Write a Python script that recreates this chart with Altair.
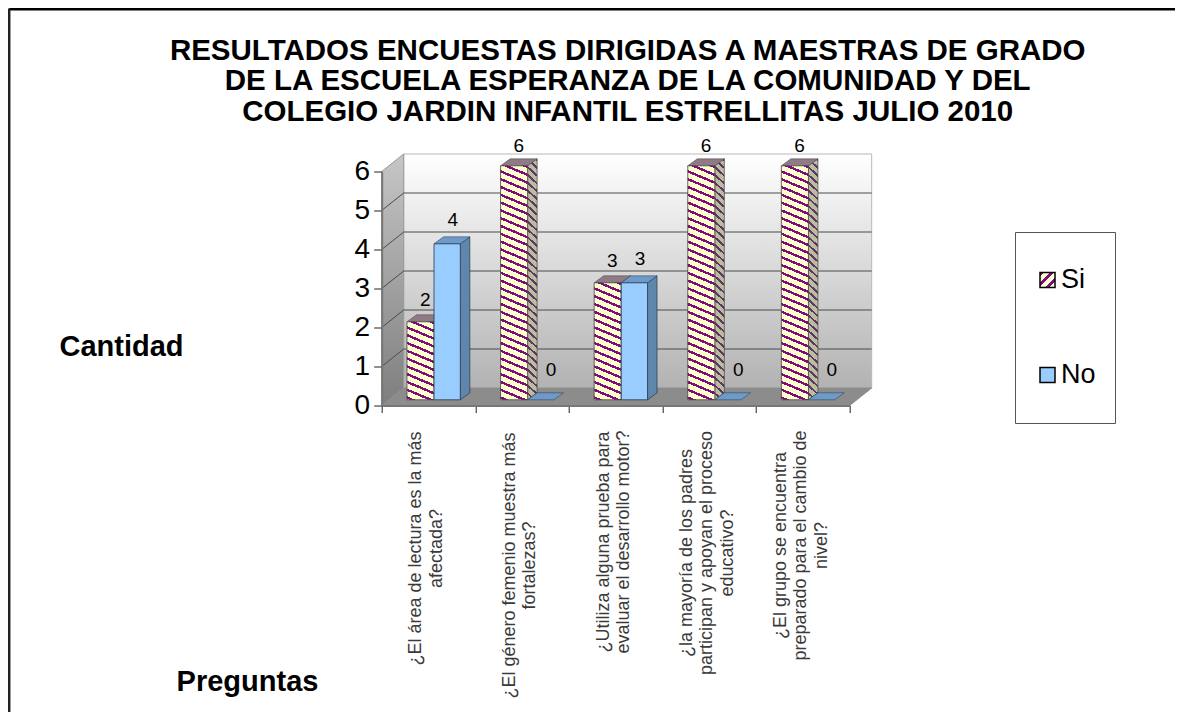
import json
import altair as alt
import pandas as pd

# ---- data
title_lines = ["RESULTADOS ENCUESTAS DIRIGIDAS A MAESTRAS DE GRADO",
               "DE LA ESCUELA ESPERANZA DE LA COMUNIDAD Y DEL",
               "COLEGIO JARDIN INFANTIL ESTRELLITAS JULIO 2010"]
questions = ["¿El área de lectura es la más|afectada?",
             "¿El género femenio muestra más|fortalezas?",
             "¿Utiliza alguna prueba para|evaluar el desarrollo motor?",
             "¿la mayoría de los padres|participan y apoyan el proceso|educativo?",
             "¿El grupo se encuentra|preparado para el cambio de|nivel?"]
si_values = [2, 6, 3, 6, 6]
no_values = [4, 0, 3, 0, 0]
series_names = ["Si", "No"]

# ---- layout (pixels and depth of the drawing)
PX_X, PX_Y = 93.6, 39.0          # pixels per category, per unit
WALL_DX, WALL_DY = 22 / PX_X, 17.5 / PX_Y
BAR_DX, BAR_DY = 9.5 / PX_X, 7 / PX_Y
BASE = 5.7 / PX_Y
SI_L, MID, NO_R = 0.27, 0.559, 0.84
LABEL_SPANS = [240, 274, 227, 249, 234]   # length of the longest line
LABEL_TOP = 23                            # gap from axis to labels
LINE_H = 20.5
FONT = "Liberation Sans"
NUM_COLS = 5

xs = alt.Scale(domain=[0, 5], nice=False, zero=False)
ys = alt.Scale(domain=[0, 6], nice=False, zero=False)


def stripes(w, h, slope, period, ink, paper, share=0.36):
    """Hard-stop linear gradient that draws diagonal stripes on a w x h box."""
    total = h + abs(slope) * w
    gx, gy = -slope * w / total, h / total
    norm = gx * gx + gy * gy
    x1, y1 = (1, 0) if slope > 0 else (0, 0)
    n = int(total / period) + 1
    stops = []
    for i in range(n):
        a, b, c = i * period / total, (i + share) * period / total, (i + 1) * period / total
        if a >= 1:
            break
        b, c = min(b, 1), min(c, 1)
        stops += [dict(offset=a, color=ink), dict(offset=b, color=ink),
                  dict(offset=b, color=paper), dict(offset=c, color=paper)]
    return dict(gradient="linear", x1=x1, y1=y1, x2=x1 + gx / norm, y2=y1 + gy / norm, stops=stops)


def vgrad(top, bottom):
    return dict(gradient="linear", x1=0, y1=0, x2=0, y2=1,
                stops=[dict(offset=0, color=top), dict(offset=1, color=bottom)])


def rect_layer(rows, **mark):
    return alt.Chart(pd.DataFrame(rows)).mark_rect(**mark).encode(
        x=alt.X("x:Q", scale=xs), x2="x2:Q",
        y=alt.Y("y:Q", scale=ys), y2="y2:Q")


def area_layer(rows, **mark):
    return alt.Chart(pd.DataFrame(rows)).mark_area(**mark).encode(
        x=alt.X("x:Q", scale=xs),
        y=alt.Y("y:Q", scale=ys), y2="y2:Q")


def box(cat, left, right, v, front, side, top, line):
    x0, x1 = cat + left, cat + right
    y0, y1 = BASE, v + BASE
    out = []
    if v > 0:
        out.append(area_layer([dict(x=x1, y=y0, y2=y1),
                                dict(x=x1 + BAR_DX, y=y0 + BAR_DY, y2=y1 + BAR_DY)],
                               fill=side, stroke=line, strokeWidth=0.7))
    out.append(area_layer([dict(x=x0, y=y1, y2=y1),
                            dict(x=x0 + BAR_DX, y=y1, y2=y1 + BAR_DY),
                            dict(x=x1, y=y1, y2=y1 + BAR_DY),
                            dict(x=x1 + BAR_DX, y=y1 + BAR_DY, y2=y1 + BAR_DY)],
                           fill=top, stroke=line, strokeWidth=0.5))
    if v > 0:
        out.append(rect_layer([dict(x=x0, x2=x1, y=y0, y2=y1)],
                              fill=front, stroke=line, strokeWidth=0.8))
    return out


# ---- walls, floor and grid
layers = []
axis_layer = alt.Chart(pd.DataFrame([dict(x=WALL_DX, x2=5 + WALL_DX, y=WALL_DY, y2=6 + WALL_DY)])).mark_rect(
    fill=vgrad("#ffffff", "#b2b2b2"), stroke="#b8b8b8", strokeWidth=1
).encode(
    x=alt.X("x:Q", scale=xs, axis=alt.Axis(
        values=[0, 1, 2, 3, 4, 5], labels=False, grid=False, domainColor="#777777", domainWidth=2,
        tickColor="#222222", tickSize=7, title="Preguntas", titleFont=FONT, titleFontSize=29,
        titleFontWeight="bold", titleColor="#000000", titleAngle=0, titleAlign="center",
        titleBaseline="middle", titleX=-134.7, titleY=275.5, zindex=1)),
    x2="x2:Q",
    y=alt.Y("y:Q", scale=ys, axis=alt.Axis(
        values=[0, 1, 2, 3, 4, 5, 6], tickCount=7, format="d", grid=False, domainColor="#777777",
        domainWidth=2, tickColor="#222222", tickSize=8, labelFont=FONT, labelFontSize=28,
        labelColor="#000000", labelOverlap=False, labelPadding=4, title="Cantidad", titleFont=FONT,
        titleFontSize=29, titleFontWeight="bold", titleColor="#000000", titleAngle=0,
        titleAlign="center", titleBaseline="middle", titleX=-260.7, titleY=174.5, zindex=1)),
    y2="y2:Q")
layers.append(axis_layer)
layers.append(area_layer([dict(x=0, y=0, y2=6), dict(x=WALL_DX, y=WALL_DY, y2=6 + WALL_DY)],
                         fill=vgrad("#c6c6c6", "#7e7e7e"), stroke="#999999", strokeWidth=1))
layers.append(area_layer([dict(x=0, y=0, y2=0), dict(x=WALL_DX, y=0, y2=WALL_DY),
                          dict(x=5, y=0, y2=WALL_DY), dict(x=5 + WALL_DX, y=WALL_DY, y2=WALL_DY)],
                         fill="#8c8c8c", stroke="#8c8c8c", strokeWidth=1))
grid_rows = []
for v in range(1, 6):
    grid_rows += [dict(v=v, o=0, x=0, y=v), dict(v=v, o=1, x=WALL_DX, y=v + WALL_DY),
                  dict(v=v, o=2, x=5 + WALL_DX, y=v + WALL_DY)]
layers.append(alt.Chart(pd.DataFrame(grid_rows)).mark_line(color="#4a4a4a", strokeWidth=1).encode(
    x=alt.X("x:Q", scale=xs), y=alt.Y("y:Q", scale=ys),
    detail="v:N", order="o:Q"))

# ---- bars
W = (MID - SI_L) * PX_X
for c in range(NUM_COLS):
    h = si_values[c] * PX_Y
    layers += box(c, SI_L, MID, si_values[c],
                  stripes(W, h, 0.42, 7.8, "#800a80", "#ffffcc", share=0.33),
                  stripes(BAR_DX * PX_X, h + 7, 0.9, 7.8, "#5a3a62", "#bdbca0", share=0.33),
                  "#8f7a86", "#444444")
    layers += box(c, MID, NO_R, no_values[c], "#99ccff", "#5f87ae", "#6e9aca", "#26384a")

# ---- value labels
label_rows = []
for c in range(NUM_COLS):
    s, n = si_values[c], no_values[c]
    label_rows.append(dict(x=c + (SI_L + MID) / 2 + 0.05, y=s + BASE + (0.5 if s == 6 else 0.56), t=str(s)))
    label_rows.append(dict(x=c + (MID + NO_R) / 2 + (0.11 if n == 0 else 0.06),
                           y=n + BASE + (0.62 if n else 0.76), t=str(n)))
layers.append(alt.Chart(pd.DataFrame(label_rows)).mark_text(
    font=FONT, fontSize=19, color="#000000", align="center", baseline="middle").encode(
    x=alt.X("x:Q", scale=xs), y=alt.Y("y:Q", scale=ys), text="t:N"))

# ---- question labels, running upward, lines centred on each other
q_rows = [dict(x=c + 0.5 - 0.02 - questions[c].count("|") * LINE_H / 2 / PX_X,
               y=-(LABEL_TOP + LABEL_SPANS[c] / 2) / PX_Y, t=questions[c])
          for c in range(NUM_COLS)]
layers.append(alt.Chart(pd.DataFrame(q_rows)).mark_text(
    font=FONT, fontSize=18, color="#3a3a3a", angle=270, lineBreak="|", lineHeight=LINE_H,
    align="center", baseline="middle").encode(
    x=alt.X("x:Q", scale=xs), y=alt.Y("y:Q", scale=ys), text="t:N"))

# ---- legend: an empty rect carries the fill scale
legend_hatch = stripes(12, 12, -1.0, 8, "#800a80", "#ffffcc", share=0.4)
legend_rows = pd.DataFrame(dict(s=series_names, x=[0, 0], y=[0, 0]))
layers.append(alt.Chart(legend_rows).mark_rect(strokeWidth=0).encode(
    x=alt.X("x:Q", scale=xs), x2="x:Q",
    y=alt.Y("y:Q", scale=ys), y2="y:Q",
    fill=alt.Fill("s:N", sort=series_names,
                  scale=alt.Scale(domain=series_names,
                                  range=[{"expr": json.dumps(legend_hatch)}, "#99ccff"]),
                  legend=alt.Legend(
                      title=None, orient="none", legendX=633.3, legendY=60.5, padding=19,
                      strokeColor="#555555", symbolType="square", symbolSize=225,
                      symbolStrokeColor="#000000", symbolStrokeWidth=1.5, labelFont=FONT,
                      labelFontSize=27, labelColor="#000000", clipHeight=58, rowPadding=37,
                      labelOffset=0))))

# ---- page frame
layers.append(alt.Chart(pd.DataFrame(dict(k=[0]))).mark_rule(color="#000000", strokeWidth=2.5).encode(
    x=alt.value(-372.5), x2=alt.value(800), y=alt.value(-162.3), y2=alt.value(-162.3)))
layers.append(alt.Chart(pd.DataFrame(dict(k=[0]))).mark_rule(color="#222222", strokeWidth=2.5).encode(
    x=alt.value(-372.5), x2=alt.value(-372.5), y=alt.value(-163), y2=alt.value(541)))

chart = alt.layer(*layers).properties(
    width=468, height=234,
    padding=dict(left=373.7, top=163.5, right=325.3, bottom=306.5),
    autosize=alt.AutoSizeParams(type="none"),
    title=alt.TitleParams(text=title_lines, font=FONT, fontSize=29.5, fontWeight="bold", color="#000000",
                          anchor="middle", lineHeight=30.5, dx=12, offset=-120),
).configure_view(stroke=None).configure(background="#ffffff")

chart.save("out.html", embed_options={"renderer": "svg", "actions": False})
